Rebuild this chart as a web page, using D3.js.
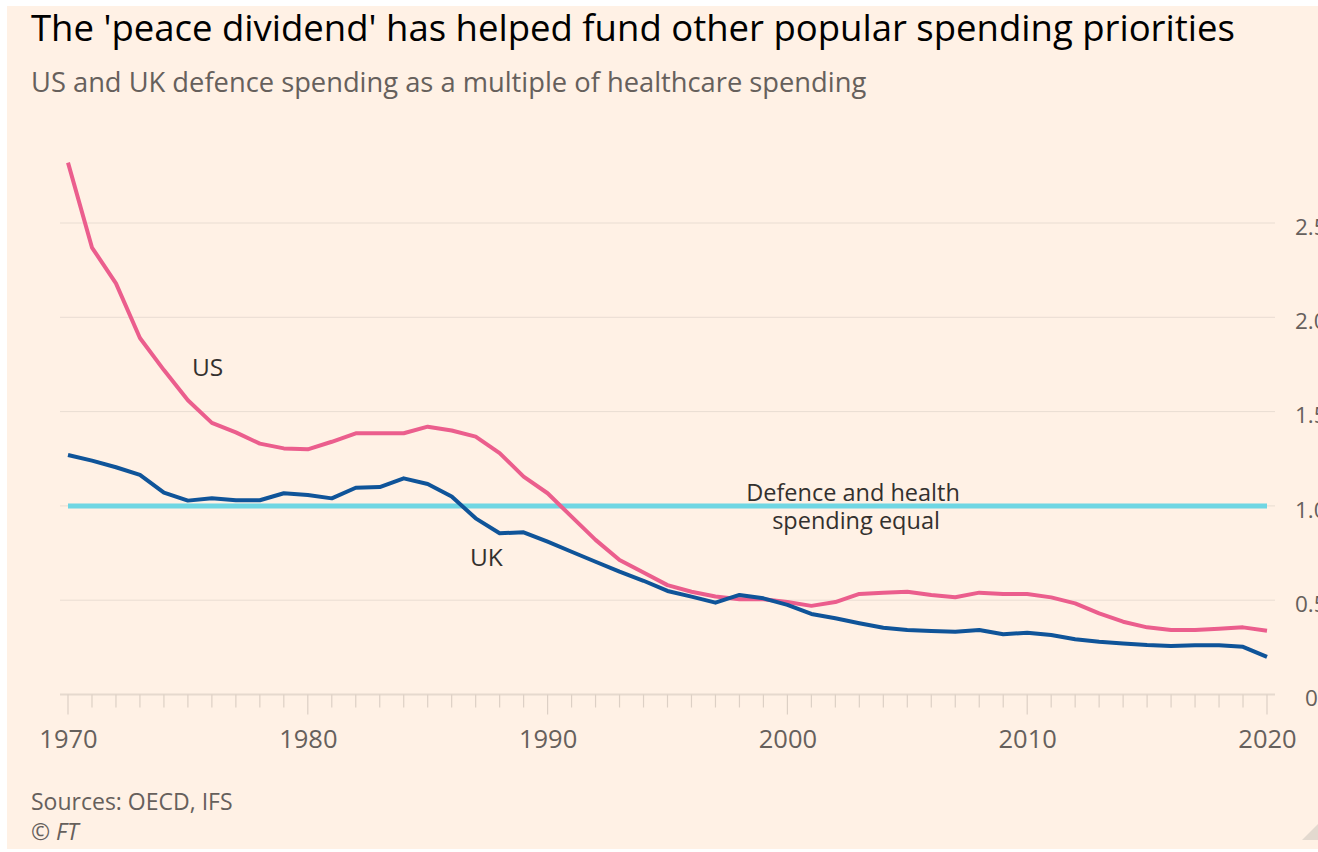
<!DOCTYPE html>
<html>
<head>
<meta charset="utf-8">
<script src="https://cdn.jsdelivr.net/npm/d3@7"></script>
<style>
  html, body { margin: 0; padding: 0; background: #ffffff; }
  svg { display: block; font-family: "Open Sans", "Noto Sans", sans-serif; }
</style>
</head>
<body>
<div id="chart"></div>
<script>
// Data
const years = d3.range(1970, 2021);

const usValues = [
  2.82, 2.37, 2.18, 1.89, 1.72, 1.56, 1.44, 1.39, 1.33, 1.305,
  1.30, 1.34, 1.385, 1.385, 1.385, 1.42, 1.40, 1.367, 1.28, 1.155,
  1.067, 0.943, 0.82, 0.713, 0.647, 0.58, 0.545, 0.52, 0.505, 0.505,
  0.49, 0.47, 0.49, 0.533, 0.54, 0.545, 0.528, 0.516, 0.54, 0.533,
  0.533, 0.515, 0.483, 0.43, 0.386, 0.356, 0.342, 0.342, 0.349, 0.356,
  0.338
];

const ukValues = [
  1.27, 1.24, 1.205, 1.164, 1.07, 1.028, 1.04, 1.03, 1.03, 1.067,
  1.058, 1.04, 1.096, 1.10, 1.146, 1.116, 1.05, 0.934, 0.855, 0.86,
  0.81, 0.757, 0.704, 0.651, 0.603, 0.549, 0.519, 0.487, 0.528, 0.51,
  0.475, 0.427, 0.404, 0.378, 0.354, 0.342, 0.337, 0.333, 0.342, 0.319,
  0.328, 0.315, 0.293, 0.28, 0.271, 0.262, 0.257, 0.261, 0.261, 0.253,
  0.20
];

const yTicks = [0, 0.5, 1.0, 1.5, 2.0, 2.5];
const yTickLabels = ["0", "0.5", "1.0", "1.5", "2.0", "2.5"];
const xTickLabels = [1970, 1980, 1990, 2000, 2010, 2020];
const parity = 1.0;

const W = 1318, H = 852;
const font = "\"Open Sans\", \"Noto Sans\", sans-serif";

const svg = d3.select("#chart").append("svg")
  .attr("width", W)
  .attr("height", H);

// FT background panel (thin white margin top/left/bottom)
svg.append("rect")
  .attr("x", 7).attr("y", 6)
  .attr("width", W - 7).attr("height", 843)
  .attr("fill", "#fff1e5");

// Scales
const x = d3.scaleLinear().domain([1970, 2020]).range([68, 1267]);
const y = d3.scaleLinear().domain([0, 1]).range([694.5, 505.9]);

// Title and subtitle
svg.append("text")
  .attr("x", 31).attr("y", 41)
  .attr("font-size", 36.5)
  .attr("fill", "#000000")
  .text("The 'peace dividend' has helped fund other popular spending priorities");

svg.append("text")
  .attr("x", 31).attr("y", 92)
  .attr("font-size", 27.3)
  .attr("fill", "#66605c")
  .text("US and UK defence spending as a multiple of healthcare spending");

// Gridlines
svg.append("g")
  .selectAll("line")
  .data(yTicks.filter(d => d > 0))
  .join("line")
  .attr("x1", 60).attr("x2", 1275)
  .attr("y1", d => y(d)).attr("y2", d => y(d))
  .attr("stroke", "#e9ddd2")
  .attr("stroke-width", 1);

// Y axis on the right (labels run off the edge, as in the original)
const yAxis = d3.axisRight(y)
  .tickValues(yTicks)
  .tickSize(0)
  .tickPadding(0)
  .tickFormat((d, i) => yTickLabels[i]);

svg.append("g")
  .attr("transform", "translate(1295,0)")
  .call(yAxis)
  .call(g => g.select(".domain").remove())
  .call(g => g.selectAll("text")
    .attr("font-size", 22.5)
    .attr("font-family", font)
    .attr("fill", "#66605c")
    .attr("dy", "0.5em")
    .attr("dx", d => d === 0 ? 10 : 0));

// X axis baseline
svg.append("line")
  .attr("x1", 60).attr("x2", 1275)
  .attr("y1", y(0)).attr("y2", y(0))
  .attr("stroke", "#e6d9ce")
  .attr("stroke-width", 2);

// minor ticks every year, longer at decades
svg.append("g")
  .selectAll("line")
  .data(years)
  .join("line")
  .attr("x1", d => x(d)).attr("x2", d => x(d))
  .attr("y1", y(0))
  .attr("y2", d => d % 10 === 0 ? y(0) + 20 : y(0) + 13)
  .attr("stroke", "#ddd0c5")
  .attr("stroke-width", 1.2);

const xAxis = d3.axisBottom(x)
  .tickValues(xTickLabels)
  .tickSize(0)
  .tickPadding(0)
  .tickFormat(d3.format("d"));

svg.append("g")
  .attr("transform", `translate(0,${y(0) + 53})`)
  .call(xAxis)
  .call(g => g.select(".domain").remove())
  .call(g => g.selectAll("text")
    .attr("font-size", 25.5)
    .attr("font-family", font)
    .attr("fill", "#66605c")
    .attr("dy", 0));

// Parity reference line
svg.append("line")
  .attr("x1", x(1970)).attr("x2", x(2020))
  .attr("y1", y(parity)).attr("y2", y(parity))
  .attr("stroke", "#6fd6e3")
  .attr("stroke-width", 5);

// Series lines
const line = d3.line()
  .x((d, i) => x(years[i]))
  .y(d => y(d));

svg.append("path")
  .datum(usValues)
  .attr("d", line)
  .attr("fill", "none")
  .attr("stroke", "#eb5e8d")
  .attr("stroke-width", 4)
  .attr("stroke-linejoin", "round");

svg.append("path")
  .datum(ukValues)
  .attr("d", line)
  .attr("fill", "none")
  .attr("stroke", "#0f5499")
  .attr("stroke-width", 4)
  .attr("stroke-linejoin", "round");

// Annotations
svg.append("text")
  .attr("x", 192).attr("y", 376)
  .attr("font-size", 24.5)
  .attr("fill", "#33302e")
  .text("US");

svg.append("text")
  .attr("x", 470).attr("y", 566)
  .attr("font-size", 24.5)
  .attr("fill", "#33302e")
  .text("UK");

const note = svg.append("text")
  .attr("text-anchor", "middle")
  .attr("font-size", 23.5)
  .attr("fill", "#33302e");
note.append("tspan").attr("x", 853).attr("y", 501).text("Defence and health");
note.append("tspan").attr("x", 856).attr("y", 529).text("spending equal");

// Footer
svg.append("text")
  .attr("x", 31).attr("y", 810)
  .attr("font-size", 23)
  .attr("fill", "#66605c")
  .text("Sources: OECD, IFS");

svg.append("text")
  .attr("x", 31).attr("y", 840)
  .attr("font-size", 23)
  .attr("font-style", "italic")
  .attr("fill", "#66605c")
  .text("© FT");

// resize handle in the corner
svg.append("path")
  .attr("d", `M${W},824 L${W},840 L1302,840 Z`)
  .attr("fill", "#e3d9cf");
</script>
</body>
</html>
